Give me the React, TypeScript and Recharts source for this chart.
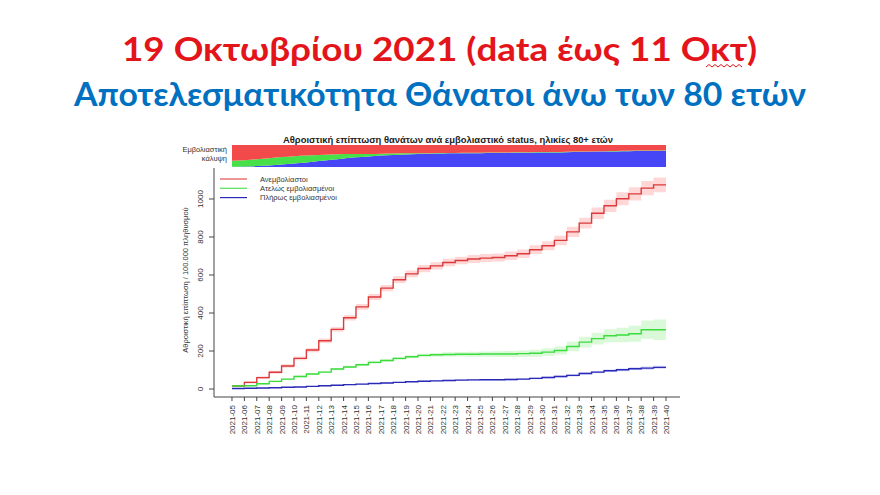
import React from "react";
import { ComposedChart, AreaChart, Area, Line, XAxis, YAxis, Legend } from "recharts";

// ISO weeks of 2021 shown on the x axis
const weeks = [5, 6, 7, 8, 9, 10, 11, 12, 13, 14, 15, 16, 17, 18, 19, 20, 21, 22,
  23, 24, 25, 26, 27, 28, 29, 30, 31, 32, 33, 34, 35, 36, 37, 38, 39, 40];

// cumulative deaths / 100.000 (80+)
const unvaccinated = [16, 35, 60, 88, 121, 161, 205, 254, 314, 375, 432, 484, 531, 575, 606, 634, 648, 666,
  676, 684, 689, 692, 701, 712, 733, 754, 782, 827, 873, 925, 964, 1001, 1027, 1057, 1074, 1074];
const partial = [16, 17, 28, 40, 52, 66, 79, 89, 105, 116, 128, 140, 150, 161, 170, 177, 180, 182,
  183, 183, 184, 184, 184, 186, 188, 194, 203, 224, 247, 265, 280, 284, 291, 312, 312, 312];
const full = [3, 4, 5, 7, 9, 11, 14, 17, 20, 23, 26, 29, 32, 35, 38, 41, 43, 45,
  47, 48, 49, 49, 50, 52, 56, 61, 66, 72, 82, 89, 96, 101, 107, 110, 114, 114];

// half-width of the shaded intervals
const unvaccinatedCi = [5, 6, 7, 8, 9, 10, 11, 12, 13, 14, 15, 16, 17, 18, 18, 19, 19, 20,
  20, 21, 21, 21, 22, 22, 23, 24, 25, 27, 28, 30, 32, 34, 35, 37, 39, 40];
const partialCi = [3, 3, 4, 4, 4, 5, 5, 5, 6, 6, 6, 7, 7, 8, 8, 9, 10, 11,
  12, 13, 14, 15, 16, 17, 18, 19, 21, 25, 28, 31, 34, 38, 42, 48, 54, 56];
const fullCi = [1, 1, 1, 1, 2, 2, 2, 2, 2, 3, 3, 3, 3, 3, 3, 4, 4, 4,
  4, 4, 4, 4, 5, 5, 5, 5, 5, 6, 6, 6, 7, 7, 7, 8, 8, 8];

// vaccination coverage strip (share of 80+ population)
const coverFull = [0.01, 0.02, 0.04, 0.07, 0.11, 0.16, 0.21, 0.27, 0.33, 0.39, 0.44, 0.48, 0.52, 0.55, 0.57, 0.59, 0.6, 0.61,
  0.62, 0.63, 0.63, 0.64, 0.64, 0.65, 0.65, 0.66, 0.66, 0.67, 0.68, 0.69, 0.7, 0.71, 0.72, 0.73, 0.73, 0.74];
const coverPartial = [0.27, 0.29, 0.31, 0.33, 0.34, 0.33, 0.31, 0.28, 0.24, 0.2, 0.15, 0.11, 0.08, 0.06, 0.05, 0.04, 0.03, 0.03,
  0.02, 0.02, 0.02, 0.02, 0.02, 0.02, 0.02, 0.02, 0.02, 0.02, 0.02, 0.02, 0.02, 0.02, 0.02, 0.02, 0.02, 0.02];

const yTicks = [0, 200, 400, 600, 800, 1000];

const legendItems = [
  { label: "Ανεμβολίαστοι", color: "#e05050" },
  { label: "Ατελώς εμβολιασμένοι", color: "#55e055" },
  { label: "Πλήρως εμβολιασμένοι", color: "#2a2ab8" },
];

const rows = weeks.map((w, i) => ({
  w,
  red: unvaccinated[i],
  redBand: [unvaccinated[i] - unvaccinatedCi[i], unvaccinated[i] + unvaccinatedCi[i]],
  green: partial[i],
  greenBand: [partial[i] - partialCi[i], partial[i] + partialCi[i]],
  blue: full[i],
  blueBand: [full[i] - fullCi[i], full[i] + fullCi[i]],
}));

const coverRows = weeks.map((w, i) => ({
  w,
  full: coverFull[i],
  partial: coverPartial[i],
  none: 1 - coverFull[i] - coverPartial[i],
}));

const SMALL = "'Liberation Sans', Arial, sans-serif";

const XTick = ({ x, y, payload }: any) => {
  const tx = x + 3;
  const ty = y + 2;
  return (
    <text x={tx} y={ty} transform={`rotate(-90 ${tx} ${ty})`} textAnchor="end" fontSize={8} fill="#333" fontFamily={SMALL}>
      {`2021-${String(payload.value).padStart(2, "0")}`}
    </text>
  );
};

const YTick = ({ x, y, payload }: any) => {
  const tx = x - 3.5;
  return (
    <text x={tx} y={y} transform={`rotate(-90 ${tx} ${y})`} textAnchor="middle" fontSize={8} fill="#333" fontFamily={SMALL}>
      {payload.value}
    </text>
  );
};

const LegendBox = () => (
  <svg width={200} height={32}>
    {legendItems.map((it, i) => (
      <g key={it.label}>
        <line x1={2} x2={29} y1={6 + i * 9.3} y2={6 + i * 9.3} stroke={it.color} strokeWidth={1.2} />
        <text x={42} y={8.7 + i * 9.3} fontSize={7.5} fill="#333" fontFamily={SMALL}>{it.label}</text>
      </g>
    ))}
  </svg>
);

export default function App() {
  return (
    <div style={{ position: "relative", width: 880, height: 495, background: "#fff", overflow: "hidden" }}>
      <style>{`body{margin:0}`}</style>

      <div style={{ position: "absolute", left: 0, top: 0 }}>
        <ComposedChart width={880} height={495} data={rows} margin={{ top: 168, right: 200, bottom: 53, left: 174 }}>
          <XAxis
            dataKey="w"
            type="number"
            domain={[3.55, 41.13]}
            ticks={weeks}
            interval={0}
            allowDataOverflow
            height={45}
            tickSize={4}
            tick={<XTick />}
            axisLine={{ stroke: "#444" }}
            tickLine={{ stroke: "#444" }}
          />
          <YAxis
            type="number"
            domain={[-42, 1163]}
            ticks={yTicks}
            interval={0}
            allowDataOverflow
            width={40}
            tickSize={5}
            tick={<YTick />}
            axisLine={{ stroke: "#444" }}
            tickLine={{ stroke: "#444" }}
          />
          <Legend
            layout="horizontal"
            verticalAlign="middle"
            align="center"
            content={<LegendBox />}
            wrapperStyle={{ position: "absolute", left: 218, top: 173, width: 200, height: 32 }}
          />
          <Area dataKey="redBand" type="stepAfter" fill="#ffd3d3" fillOpacity={0.9} stroke="none" isAnimationActive={false} />
          <Area dataKey="greenBand" type="stepAfter" fill="#d5f8d5" fillOpacity={0.9} stroke="none" isAnimationActive={false} />
          <Area dataKey="blueBand" type="stepAfter" fill="#d2d2f8" fillOpacity={0.9} stroke="none" isAnimationActive={false} />
          <Line dataKey="red" type="stepAfter" stroke="#dc3a3a" strokeWidth={1.4} dot={false} isAnimationActive={false} />
          <Line dataKey="green" type="stepAfter" stroke="#3ddc3d" strokeWidth={1.4} dot={false} isAnimationActive={false} />
          <Line dataKey="blue" type="stepAfter" stroke="#2a2ab8" strokeWidth={1.4} dot={false} isAnimationActive={false} />
        </ComposedChart>
      </div>

      <div style={{ position: "absolute", left: 232, top: 145 }}>
        <AreaChart width={434} height={22} data={coverRows} margin={{ top: 0, right: 0, bottom: 0, left: 0 }}>
          <XAxis dataKey="w" type="number" domain={[5, 40]} hide />
          <YAxis type="number" domain={[0, 1]} hide />
          <Area dataKey="full" stackId="c" type="monotone" fill="#4646f6" fillOpacity={1} stroke="none" isAnimationActive={false} />
          <Area dataKey="partial" stackId="c" type="monotone" fill="#48e048" fillOpacity={1} stroke="none" isAnimationActive={false} />
          <Area dataKey="none" stackId="c" type="monotone" fill="#f24a4a" fillOpacity={1} stroke="none" isAnimationActive={false} />
        </AreaChart>
      </div>

      <svg width={880} height={495} style={{ position: "absolute", left: 0, top: 0, pointerEvents: "none" }}>
        <text x={439.5} y={61} textAnchor="middle" fontSize={32} fontWeight={700} fill="#e3151a"
          fontFamily="Lato, 'Open Sans', sans-serif" textLength={635} lengthAdjust="spacingAndGlyphs">
          19 Οκτωβρίου 2021 (data έως 11 Οκτ)
        </text>
        <polyline points="706,67 709,64.5 712,67 715,64.5 718,67 721,64.5 724,67 727,64.5 730,67 733,64.5 736,67 739,64.5 742,67"
          fill="none" stroke="#e3151a" strokeWidth={1} />
        <text x={440} y={106} textAnchor="middle" fontSize={32} fontWeight={700} fill="#0070c0"
          fontFamily="Lato, 'Open Sans', sans-serif" textLength={732} lengthAdjust="spacingAndGlyphs">
          Αποτελεσματικότητα Θάνατοι άνω των 80 ετών
        </text>
        <text x={448} y={143} textAnchor="middle" fontSize={8.5} fontWeight={700} fill="#222" fontFamily={SMALL}
          textLength={330} lengthAdjust="spacingAndGlyphs">
          Αθροιστική επίπτωση θανάτων ανά εμβολιαστικό status, ηλικίες 80+ ετών
        </text>
        <text x={227} y={152} textAnchor="end" fontSize={7.5} fill="#333" fontFamily={SMALL}>Εμβολιαστική</text>
        <text x={227} y={160.5} textAnchor="end" fontSize={7.5} fill="#333" fontFamily={SMALL}>κάλυψη</text>
        <text x={187.5} y={280} transform="rotate(-90 187.5 280)" textAnchor="middle" fontSize={7.5} fill="#333" fontFamily={SMALL}>
          Αθροιστική επίπτωση / 100.000 πληθυσμού
        </text>
      </svg>
    </div>
  );
}
